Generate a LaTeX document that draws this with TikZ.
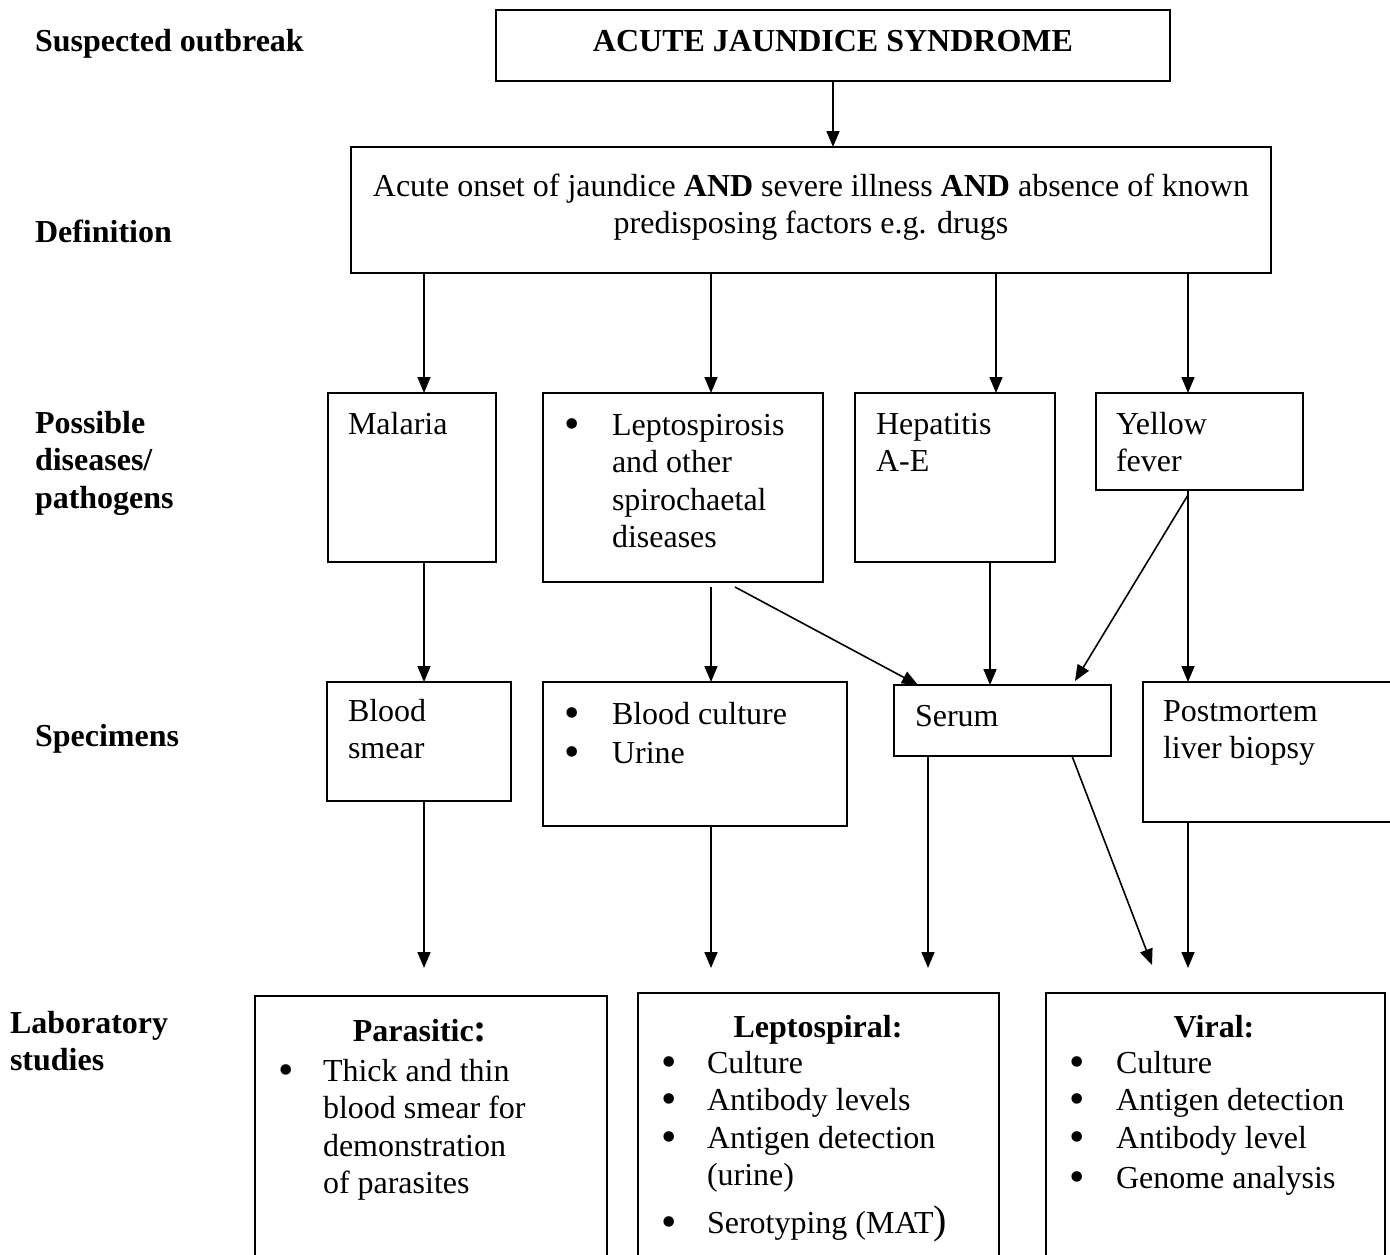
\documentclass[tikz,border=0pt]{standalone}
\usepackage{fontspec}
\setmainfont{Liberation Serif}
\usetikzlibrary{arrows.meta,calc}
\newcommand{\fstrut}{\rule{0pt}{25pt}}
\newcommand{\bigbul}{\makebox[0pt][c]{\smash{\raisebox{-3pt}{\fontsize{44pt}{0pt}\selectfont\textbullet}}}}
\newcommand{\bul}[1]{\llap{\bigbul\hspace{#1pt}}}
\tikzset{
  boxn/.style={draw, line width=1.8pt, rectangle, inner sep=0pt, outer sep=0pt, anchor=north west},
  txt/.style={anchor=north west, inner sep=0pt, outer sep=0pt, align=left},
  ctxt/.style={anchor=north, inner sep=0pt, outer sep=0pt, align=center},
  lab/.style={txt, font=\fontsize{32pt}{37.5pt}\selectfont\bfseries},
  arr/.style={-{Triangle[length=16pt,width=13pt]}, line width=1.6pt},
}
\begin{document}
\begin{tikzpicture}[x=1pt,y=-1pt,font=\fontsize{32pt}{37.5pt}\selectfont]
\useasboundingbox (0,0) rectangle (1390,1255);
\clip (0,0) rectangle (1390,1255);
\fill[white] (0,0) rectangle (1390,1255);

% left labels
\node[lab] (l1) at (35,27) {\fstrut Suspected outbreak};
\node[lab] (l2) at (35,217) {\fstrut Definition};
\node[lab] (l3) at (35,408) {\fstrut Possible\\diseases/\\pathogens};
\node[lab] (l4) at (35,721) {\fstrut Specimens};
\node[lab] (l5) at (10,1008) {\fstrut Laboratory\\studies};

% boxes
\node[boxn, minimum width=674pt, minimum height=71pt] (top) at (496,10) {};
\node[boxn, minimum width=920pt, minimum height=126pt] (def) at (351,147) {};
\node[boxn, minimum width=168pt, minimum height=169pt] (mal) at (328,393) {};
\node[boxn, minimum width=280pt, minimum height=189pt] (lep) at (543,393) {};
\node[boxn, minimum width=200pt, minimum height=169pt] (hep) at (855,393) {};
\node[boxn, minimum width=207pt, minimum height=97pt] (yf) at (1096,393) {};
\node[boxn, minimum width=184pt, minimum height=119pt] (bs) at (327,682) {};
\node[boxn, minimum width=304pt, minimum height=144pt] (bc) at (543,682) {};
\node[boxn, minimum width=217pt, minimum height=71pt] (ser) at (894,685) {};
\node[boxn, minimum width=300pt, minimum height=140pt] (pm) at (1143,682) {};
\node[boxn, minimum width=352pt, minimum height=300pt] (par) at (255,996) {};
\node[boxn, minimum width=361pt, minimum height=300pt] (lsp) at (638,993) {};
\node[boxn, minimum width=339pt, minimum height=300pt] (vir) at (1046,993) {};

% box texts
\node[ctxt, font=\fontsize{32pt}{37.5pt}\selectfont\bfseries] (topt) at (833,27) {\fstrut ACUTE JAUNDICE SYNDROME};
\node[ctxt] (deft) at (811,171) {\fstrut Acute onset of jaundice \textbf{AND} severe illness \textbf{AND} absence of known\\predisposing factors e.g. drugs};
\node[txt] (malt) at (348,409) {\fstrut Malaria};
\node[txt] (lept) at (612,410) {\fstrut\bul{40}Leptospirosis\\and other\\spirochaetal\\diseases};
\node[txt] (hept) at (876,409) {\fstrut Hepatitis\\A-E};
\node[txt] (yft) at (1116,409) {\fstrut Yellow\\fever};
\node[txt] (bst) at (348,696) {\fstrut Blood\\smear};
\node[txt] (bct) at (612,699) {\fstrut\bul{40}Blood culture\\[1.5pt]\bul{40}Urine};
\node[txt] (sert) at (915,701) {\fstrut Serum};
\node[txt] (pmt) at (1163,696) {\fstrut Postmortem\\liver biopsy};

\node[ctxt, font=\fontsize{32pt}{37.5pt}\selectfont\bfseries] (part) at (420,1016) {\fstrut Parasitic{\fontsize{40pt}{40pt}\selectfont :}};
\node[txt] (pari) at (323,1056) {\fstrut\bul{37}Thick and thin\\blood smear for\\demonstration\\of parasites};
\node[ctxt, font=\fontsize{32pt}{37.5pt}\selectfont\bfseries] (lspt) at (818,1012) {\fstrut Leptospiral:};
\node[txt] (lspi) at (707,1048) {\fstrut\bul{38}Culture\\\bul{38}Antibody levels\\\bul{38}Antigen detection\\(urine)\\[10pt]\bul{38}Serotyping (MAT{\fontsize{40pt}{40pt}\selectfont )}};
\node[ctxt, font=\fontsize{32pt}{37.5pt}\selectfont\bfseries] (virt) at (1214,1012) {\fstrut Viral:};
\node[txt] (viri) at (1116,1048) {\fstrut\bul{39}Culture\\\bul{39}Antigen detection\\\bul{39}Antibody level\\[3pt]\bul{39}Genome analysis};

% column coordinates
\coordinate (x1) at (424,0);
\coordinate (x2) at (711,0);
\coordinate (x3) at (996,0);
\coordinate (x4) at (1188,0);
\coordinate (x5) at (990,0);
\coordinate (x6) at (735,0);
\coordinate (x7) at (918,0);
\coordinate (x8) at (1075,0);
\coordinate (x9) at (928,0);
\coordinate (x10) at (1072,0);
\coordinate (x11) at (1152,0);
\coordinate (x0) at (833,0);
\coordinate (lev) at (0,968);
\coordinate (levd) at (0,965);

% connectors
\draw[arr] (top.south -| x0) -- (def.north -| x0);
\draw[arr] (def.south -| x1) -- (mal.north -| x1);
\draw[arr] (def.south -| x2) -- (lep.north -| x2);
\draw[arr] (def.south -| x3) -- (hep.north -| x3);
\draw[arr] (def.south -| x4) -- (yf.north -| x4);

\draw[arr] (mal.south -| x1) -- (bs.north -| x1);
\draw[arr] ($(lep.south -| x2)+(0,5)$) -- (bc.north -| x2);
\draw[arr] ($(lep.south -| x6)+(0,5)$) -- (ser.north -| x7);
\draw[arr] (hep.south -| x5) -- (ser.north -| x5);
\draw[arr] ($(yf.south -| x4)+(0,5)$) -- ($(ser.north -| x8)+(0,-4)$);
\draw[arr] (yf.south -| x4) -- (pm.north -| x4);

\draw[arr] (bs.south -| x1) -- (lev -| x1);
\draw[arr] (bc.south -| x2) -- (lev -| x2);
\draw[arr] (ser.south -| x9) -- (lev -| x9);
\draw[arr] (ser.south -| x10) -- (levd -| x11);
\draw[arr] (pm.south -| x4) -- (lev -| x4);
\end{tikzpicture}
\end{document}
